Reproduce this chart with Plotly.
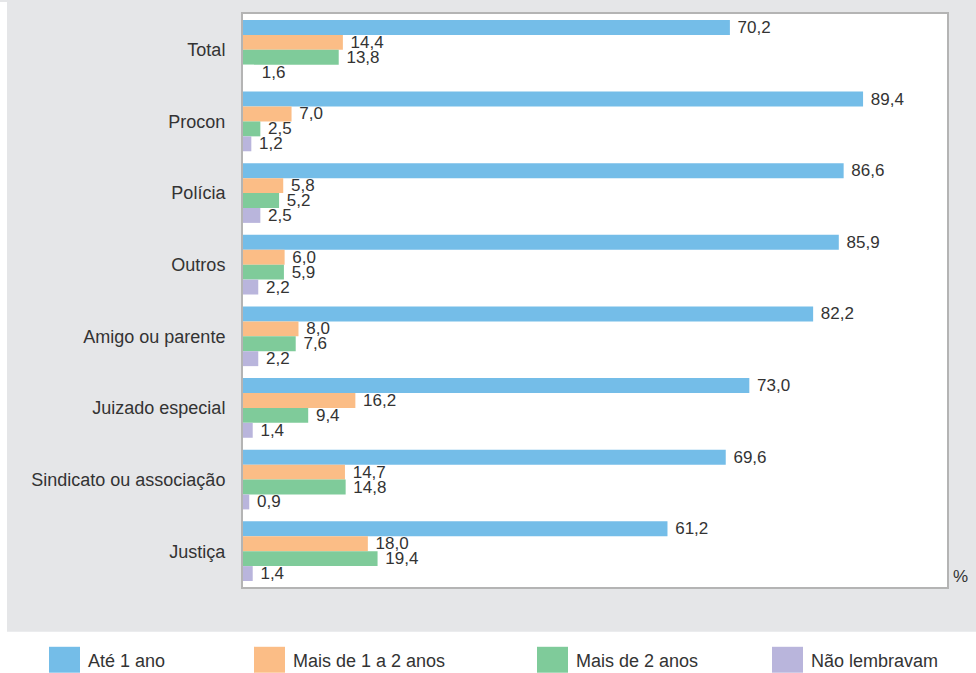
import plotly.graph_objects as go

categories = ["Total", "Procon", "Polícia", "Outros", "Amigo ou parente",
              "Juizado especial", "Sindicato ou associação", "Justiça"]
series_names = ["Até 1 ano", "Mais de 1 a 2 anos", "Mais de 2 anos", "Não lembravam"]
ate_1_ano = [70.2, 89.4, 86.6, 85.9, 82.2, 73.0, 69.6, 61.2]
mais_1_a_2 = [14.4, 7.0, 5.8, 6.0, 8.0, 16.2, 14.7, 18.0]
mais_2 = [13.8, 2.5, 5.2, 5.9, 7.6, 9.4, 14.8, 19.4]
nao_lembravam = [1.6, 1.2, 2.5, 2.2, 2.2, 1.4, 0.9, 1.4]

colors = ["#74bde8", "#fbbd86", "#7fcb9a", "#b9b5dc"]
series = [ate_1_ano, mais_1_a_2, mais_2, nao_lembravam]

W, H = 976, 673
L, R, T, B = 243, 947, 12, 587
FONT = "Liberation Sans"
TXT = "#333333"
FS = 17
FS_LBL = 18

def px_x(px):
    return (px - L) / (R - L)

def px_y(py):
    return (B - py) / (B - T)

fig = go.Figure()
for i, (name, vals, col) in enumerate(zip(series_names, series, colors)):
    mcols = [col] * len(vals)
    if i == 3:
        mcols[0] = "#ffffff"  # Total bar not visible in reference
    fig.add_trace(go.Bar(
        y=categories, x=vals, name=name, orientation="h",
        marker=dict(color=mcols, line=dict(width=0)),
        text=[" " + f"{v:.1f}".replace(".", ",") for v in vals],
        textposition="outside", constraintext="none", cliponaxis=False,
        textfont=dict(family=FONT, size=FS, color=TXT),
        hoverinfo="x+y", showlegend=False,
    ))

shapes = [
    dict(type="rect", xref="paper", yref="paper", x0=px_x(0), x1=px_x(7), y0=px_y(H), y1=px_y(0),
         fillcolor="white", line=dict(width=0), layer="below"),
    dict(type="rect", xref="paper", yref="paper", x0=px_x(0), x1=px_x(W), y0=px_y(H + 2), y1=px_y(632),
         fillcolor="white", line=dict(width=0), layer="below"),
]
annotations = [
    dict(text="%", xref="paper", yref="paper", x=px_x(951), y=px_y(576), xanchor="left", yanchor="middle",
         showarrow=False, font=dict(family=FONT, size=FS, color=TXT)),
]
legend_x = [49, 254, 537, 772]
for name, col, lx in zip(series_names, colors, legend_x):
    shapes.append(dict(type="rect", xref="paper", yref="paper", x0=px_x(lx), x1=px_x(lx + 31),
                       y0=px_y(673), y1=px_y(647), fillcolor=col, line=dict(width=0)))
    annotations.append(dict(text=name, xref="paper", yref="paper", x=px_x(lx + 37), y=px_y(661),
                            xanchor="left", yanchor="middle", showarrow=False,
                            font=dict(family=FONT, size=FS_LBL, color=TXT)))

fig.update_layout(
    width=W, height=H, barmode="group", bargap=0.167, bargroupgap=0,
    margin=dict(l=L, r=W - R, t=T, b=H - B, pad=0),
    paper_bgcolor="#e5e6e8", plot_bgcolor="white",
    font=dict(family=FONT, size=FS, color=TXT),
    showlegend=False, shapes=shapes, annotations=annotations,
    xaxis=dict(range=[0, 101.5], showgrid=False, zeroline=False, showticklabels=False,
               showline=True, mirror=True, linecolor="#b4b4b4", linewidth=2, fixedrange=True),
    yaxis=dict(autorange="reversed", showgrid=False, zeroline=False,
               showline=True, mirror=True, linecolor="#b4b4b4", linewidth=2,
               ticks="outside", ticklen=12, tickcolor="rgba(0,0,0,0)",
               tickfont=dict(family=FONT, size=FS_LBL, color=TXT)),
)

fig.write_html("out.html", config={"displayModeBar": False},
               post_script="document.body.style.margin='0';document.body.style.overflow='hidden';")
